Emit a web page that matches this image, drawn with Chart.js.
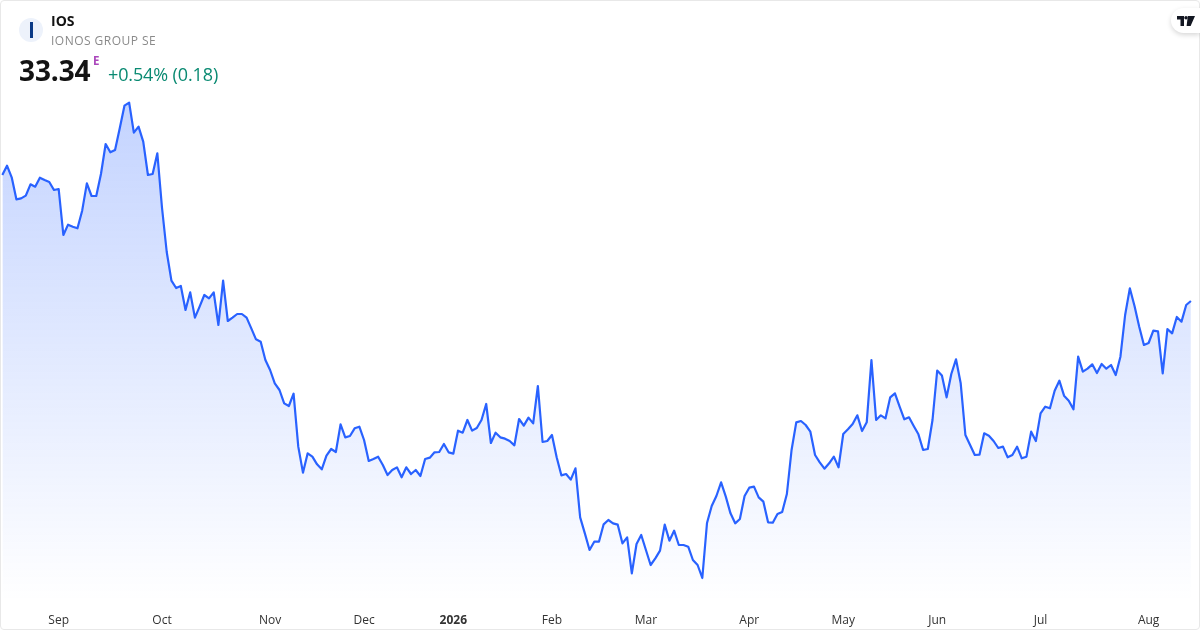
<!DOCTYPE html>
<html>
<head>
<meta charset="utf-8">
<title>IOS</title>
<script src="https://cdn.jsdelivr.net/npm/chart.js@4/dist/chart.umd.min.js"></script>
<style>
  html, body { margin: 0; padding: 0; background: #fff; }
  body { width: 1200px; height: 630px; overflow: hidden; position: relative; font-family: "Open Sans", sans-serif; }
  #chart { position: absolute; left: 0; top: 0; }
  #frame { position: absolute; left: 0; top: 0; width: 1198px; height: 628px; border: 1px solid #e8e8e8; border-radius: 4px; pointer-events: none; }
  .abs { position: absolute; white-space: nowrap; }
  #logo { left: 19px; top: 18px; width: 24px; height: 24px; border-radius: 50%; background: #edf2fb; }
  #logo i { position: absolute; left: 10.5px; top: 4px; width: 3px; height: 16px; background: #0b3a86; }
  #symbol { left: 51px; top: 11px; font-size: 14px; line-height: 19px; font-weight: 700; color: #131313; }
  #name { left: 51px; top: 32px; font-size: 12px; line-height: 17px; letter-spacing: 0.47px; color: #8a8a8a; }
  #price { left: 19px; top: 51px; font-size: 28px; line-height: 38px; font-weight: 700; color: #131313; letter-spacing: -0.1px; }
  #session { left: 93px; top: 53px; font-size: 11.5px; line-height: 16px; font-weight: 700; color: #ab47bc; }
  #change { left: 108px; top: 62px; font-size: 18px; line-height: 25px; letter-spacing: -0.12px; color: #0a8a72; }
  #badge { left: 1171px; top: 8px; width: 29px; height: 25px; background: #fff; border-radius: 13px 0 0 13px; box-shadow: 0 2px 5px rgba(0,0,0,0.16); }
  #badge svg { position: absolute; left: 6px; top: 8px; }
</style>
</head>
<body>
<canvas id="chart" width="1200" height="630"></canvas>
<div id="frame"></div>
<div class="abs" id="logo"><i></i></div>
<div class="abs" id="symbol">IOS</div>
<div class="abs" id="name">IONOS GROUP SE</div>
<div class="abs" id="price">33.34</div>
<div class="abs" id="session">E</div>
<div class="abs" id="change">+0.54% (0.18)</div>
<div class="abs" id="badge">
  <svg width="18" height="10" viewBox="0 0 18 10"><path d="M0 0h7v10H3.5V3.4H0z M10.8 0H18l-4.4 10H9.6z" fill="#131722"/><circle cx="9" cy="1.7" r="1.7" fill="#131722"/></svg>
</div>
<script>
// Daily closes
const closes = [
  40.90, 41.46, 40.76, 39.44, 39.50, 39.66, 40.34, 40.20, 40.74, 40.60, 40.48, 40.00, 40.06, 37.30, 37.92, 37.80,
  37.70, 38.76, 40.40, 39.64, 39.64, 40.96, 42.76, 42.26, 42.40, 43.70, 45.06, 45.24, 43.44, 43.80, 42.90, 40.90,
  40.96, 42.20, 38.92, 36.28, 34.56, 34.12, 34.24, 32.80, 33.86, 32.34, 33.00, 33.70, 33.50, 33.86, 31.90, 34.56,
  32.14, 32.34, 32.56, 32.56, 32.34, 31.70, 31.04, 30.90, 29.80, 29.20, 28.40, 28.00, 27.20, 27.04, 27.78, 24.60,
  23.04, 24.20, 24.00, 23.54, 23.24, 24.06, 24.46, 24.28, 25.94, 25.16, 25.24, 25.70, 25.80, 25.00, 23.74, 23.86,
  24.00, 23.50, 22.90, 23.20, 23.36, 22.76, 23.36, 22.96, 23.20, 22.84, 23.86, 23.94, 24.26, 24.28, 24.76, 24.26,
  24.18, 25.56, 25.44, 26.20, 25.56, 25.72, 26.20, 27.16, 24.82, 25.44, 25.16, 25.08, 24.94, 24.68, 26.26, 25.86,
  26.34, 26.00, 28.24, 24.88, 24.94, 25.30, 23.96, 22.88, 22.96, 22.62, 23.30, 20.36, 19.40, 18.40, 18.90, 18.90,
  19.94, 20.20, 20.00, 19.92, 18.80, 19.16, 17.00, 18.76, 19.30, 18.40, 17.50, 17.90, 18.36, 19.92, 18.96, 19.56,
  18.70, 18.70, 18.60, 17.80, 17.50, 16.72, 20.02, 21.04, 21.64, 22.46, 21.60, 20.60, 20.00, 20.26, 21.64, 22.14,
  22.20, 21.56, 21.30, 20.06, 20.04, 20.56, 20.68, 21.76, 24.40, 26.06, 26.14, 25.90, 25.50, 24.10, 23.66, 23.28,
  23.60, 24.00, 23.36, 25.36, 25.64, 25.96, 26.48, 25.54, 26.06, 29.80, 26.20, 26.48, 26.30, 27.56, 27.80, 27.00,
  26.24, 26.36, 25.84, 25.34, 24.40, 24.46, 26.20, 29.17, 28.87, 27.56, 28.96, 29.84, 28.40, 25.30, 24.70, 24.10,
  24.12, 25.40, 25.26, 24.94, 24.52, 24.60, 23.96, 24.10, 24.60, 23.90, 24.00, 25.50, 24.94, 26.60, 27.00, 26.90,
  27.96, 28.56, 27.66, 27.36, 26.84, 30.00, 29.10, 29.28, 29.54, 29.02, 29.56, 29.28, 29.50, 28.90, 30.00, 32.50,
  34.10, 33.04, 31.80, 30.70, 30.82, 31.56, 31.52, 29.00, 31.66, 31.40, 32.38, 32.10, 33.10, 33.34
];
// Which bar each month label sits under
const tickBars   = [12, 34, 57, 77, 96, 117, 137, 159, 179, 199, 221, 244];
const tickLabels = ["Sep", "Oct", "Nov", "Dec", "2026", "Feb", "Mar", "Apr", "May", "Jun", "Jul", "Aug"];

const categories = closes.map((_, i) => {
  const t = tickBars.indexOf(i);
  return t > -1 ? tickLabels[t] : "";
});

new Chart(document.getElementById("chart").getContext("2d"), {
  type: "line",
  data: {
    labels: categories,
    datasets: [{
      data: closes,
      borderColor: "#2962ff",
      borderWidth: 2.2,
      borderJoinStyle: "round",
      pointRadius: 0,
      tension: 0,
      fill: "start",
      backgroundColor: (ctx) => {
        const area = ctx.chart.chartArea;
        if (!area) return "rgba(41,98,255,0.28)";
        const g = ctx.chart.ctx.createLinearGradient(0, 100, 0, area.bottom);
        g.addColorStop(0, "rgba(41,98,255,0.28)");
        g.addColorStop(1, "rgba(41,98,255,0)");
        return g;
      }
    }]
  },
  options: {
    responsive: false,
    animation: false,
    layout: { padding: { left: 2.3, right: 9.1, top: 0, bottom: 0 } },
    plugins: { legend: { display: false }, tooltip: { enabled: false } },
    scales: {
      x: {
        type: "category",
        offset: false,
        border: { display: false },
        grid: { display: false },
        afterFit: (scale) => { scale.height = 28; },
        ticks: {
          autoSkip: false,
          maxRotation: 0,
          minRotation: 0,
          padding: 3,
          color: "#333",
          callback: function(value) { return this.getLabelForValue(value) || null; },
          font: (ctx) => ({
            family: '"Open Sans", sans-serif',
            size: 12,
            weight: ctx.tick && ctx.tick.label === "2026" ? "bold" : "normal"
          })
        }
      },
      y: { display: false, min: 15.28, max: 51.40 }
    }
  }
});
</script>
</body>
</html>
